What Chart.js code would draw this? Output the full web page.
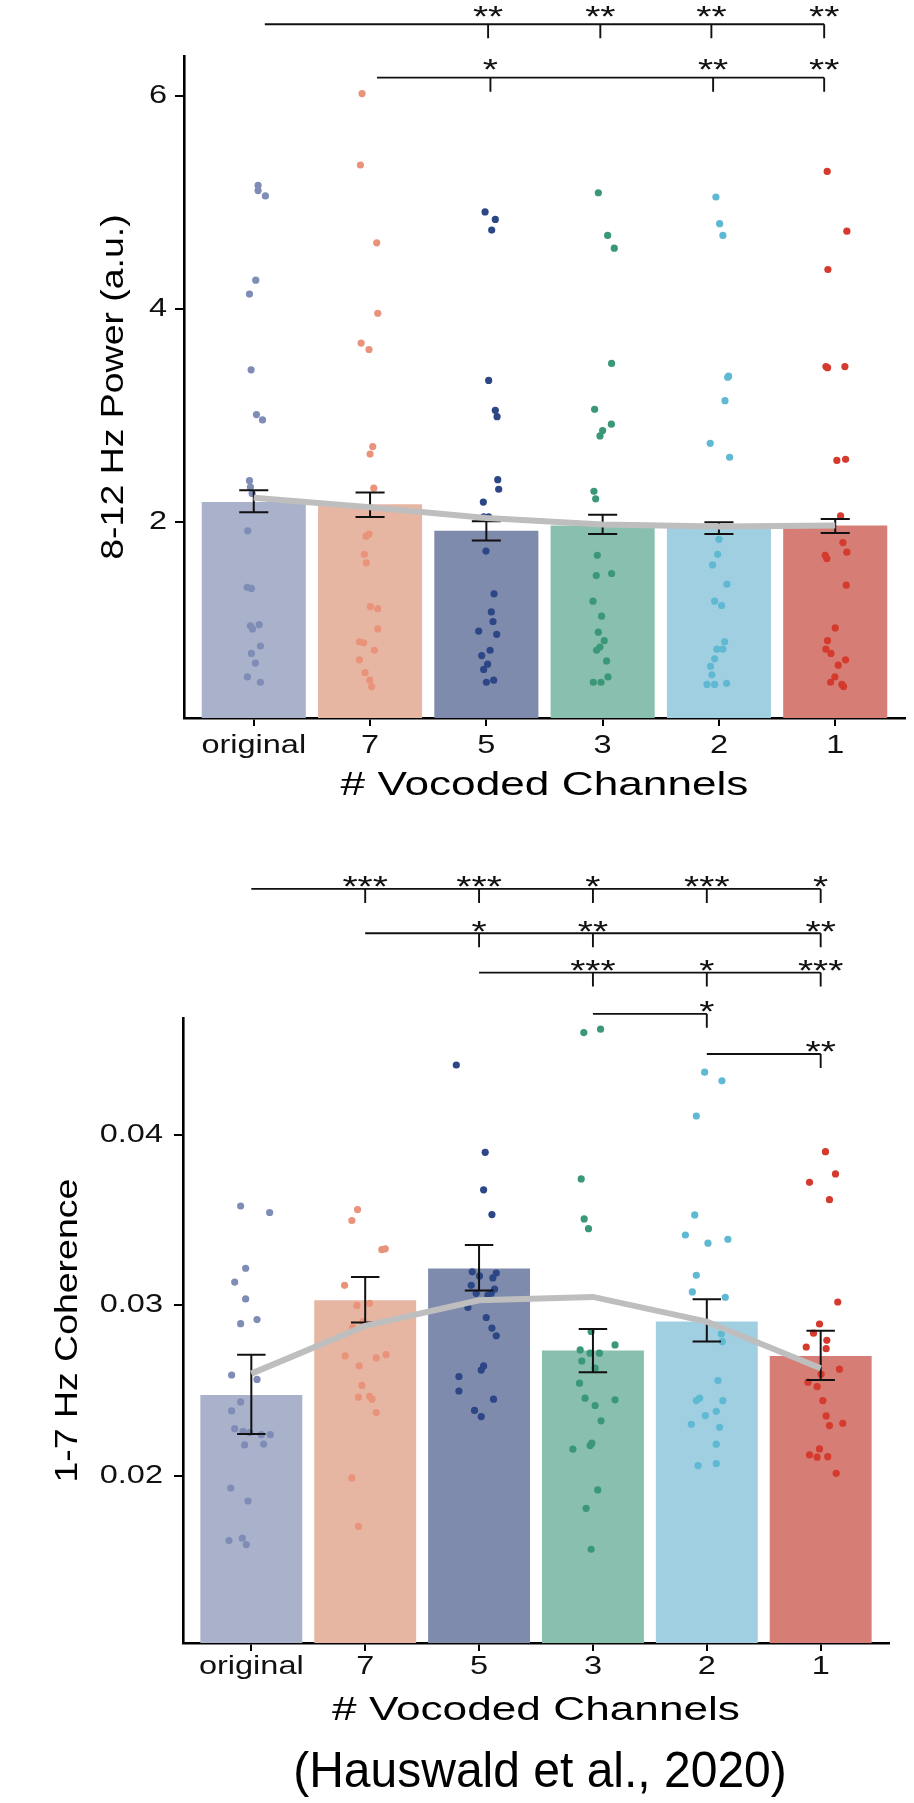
<!DOCTYPE html>
<html><head><meta charset="utf-8">
<script src="https://cdn.jsdelivr.net/npm/chart.js@4.4.1/dist/chart.umd.min.js"></script>
<style>
html,body{margin:0;padding:0;background:#fff;}
body{width:914px;height:1803px;position:relative;overflow:hidden;font-family:"Liberation Sans",Arial,sans-serif;}
#c1{position:absolute;left:0;top:0;}
#c2{position:absolute;left:0;top:845px;}
#cite{position:absolute;left:540px;top:1745px;transform:translateX(-50%) scaleX(0.96);font-size:50px;line-height:50px;white-space:nowrap;color:#000;}
</style></head>
<body>
<canvas id="c1" width="914" height="830"></canvas>
<canvas id="c2" width="914" height="895"></canvas>
<div id="cite">(Hauswald et al., 2020)</div>
<script>
// ---------- shared categories / ticks ----------
const categories = ['original', '7', '5', '3', '2', '1'];
const xTitle = '# Vocoded Channels';

// ---------- panel A: 8-12 Hz power ----------
const alphaTitle = '8-12 Hz Power (a.u.)';
const alphaTickValues = [2, 4, 6];
const alphaTickLabels = ['2', '4', '6'];
const alphaMean = [2.19, 2.17, 1.92, 1.97, 1.95, 1.97];
const alphaSeLow = [2.095, 2.05, 1.83, 1.89, 1.89, 1.90];
const alphaSeHigh = [2.30, 2.28, 2.01, 2.07, 2.00, 2.03];
const alphaTrend = [2.23, 2.14, 2.04, 1.98, 1.96, 1.97];
const alphaOriginal = [5.16,5.11,5.06,4.27,4.14,3.43,3.01,2.96,2.39,2.33,2.27,1.92,1.39,1.38,1.03,1.04,1.00,0.84,0.77,0.68,0.55,0.50];
const alpha7 = [6.02,5.35,4.62,3.96,3.68,3.62,2.71,2.64,2.32,1.89,1.87,1.70,1.62,1.21,1.19,1.00,0.88,0.87,0.80,0.71,0.59,0.52,0.46];
const alpha5 = [4.91,4.84,4.74,3.33,3.05,2.99,2.40,2.31,2.19,2.05,2.05,1.73,1.33,1.16,1.07,0.98,0.95,0.80,0.75,0.67,0.62,0.52,0.50];
const alpha3 = [5.09,4.69,4.57,3.49,3.06,2.92,2.86,2.81,2.29,2.22,1.69,1.50,1.52,1.26,1.12,0.97,0.89,0.83,0.80,0.70,0.55,0.50,0.50];
const alpha2 = [5.05,4.80,4.69,3.37,3.36,3.14,2.74,2.61,1.84,1.70,1.60,1.42,1.26,1.22,0.88,0.81,0.81,0.72,0.65,0.57,0.48,0.48,0.49];
const alpha1 = [5.29,4.73,4.37,3.46,3.45,3.46,2.58,2.59,2.06,1.81,1.69,1.66,1.72,1.41,1.01,0.89,0.81,0.77,0.66,0.71,0.55,0.50,0.48,0.46];
// horizontal jitter (category units)
const alphaJitOriginal = [0.037,0.037,0.10,0.017,-0.037,-0.023,0.023,0.075,-0.037,-0.029,-0.014,-0.052,-0.057,-0.02,-0.029,0.046,-0.011,0.057,-0.02,0.014,-0.055,0.057];
const alphaJit7 = [-0.069,-0.083,0.057,0.066,-0.077,-0.009,0.023,0,0.032,-0.009,-0.034,-0.049,-0.032,0.003,0.066,0.066,-0.092,-0.055,0.037,-0.092,-0.043,-0.003,0.014];
const alphaJit5 = [-0.011,0.077,0.046,0.02,0.077,0.092,0.098,0.106,-0.026,-0.023,0.02,-0.003,0.066,0.043,0.057,-0.066,0.089,0.032,-0.04,0.011,-0.023,0.063,0];
const alphaJit3 = [-0.037,0.043,0.1,0.077,-0.069,0.075,0,-0.023,-0.075,-0.06,-0.046,-0.055,0.077,-0.083,-0.009,-0.037,0.014,-0.023,-0.052,0.034,0.046,-0.08,-0.014];
const alphaJit2 = [-0.026,0.006,0.034,0.083,0.075,0.052,-0.075,0.092,0,-0.011,-0.055,0.069,-0.037,0.023,0.049,0.034,-0.017,-0.037,-0.072,-0.06,-0.103,-0.037,0.066];
const alphaJit1 = [-0.069,0.1,-0.063,-0.08,-0.066,0.083,0.014,0.089,0.046,0.066,-0.086,-0.072,0.1,0.095,0,-0.066,-0.08,-0.037,0.026,0.089,-0.003,-0.04,0.057,0.072];
// significance brackets
const alphaBracketLevel = [6.669, 6.169];
const alphaBracketFrom = [0.095, 1.06];
const alphaBracketTicks = [[2.015, 2.98, 3.935, 4.905], [2.035, 3.95, 4.905]];
const alphaBracketStars = [['**', '**', '**', '**'], ['*', '**', '**']];

// ---------- panel B: 1-7 Hz coherence ----------
const cohTitle = '1-7 Hz Coherence';
const cohTickValues = [0.02, 0.03, 0.04];
const cohTickLabels = ['0.02', '0.03', '0.04'];
const cohMean = [0.02474, 0.03031, 0.03216, 0.02735, 0.02905, 0.02704];
const cohSeLow = [0.02246, 0.02900, 0.03088, 0.02608, 0.02788, 0.02563];
const cohSeHigh = [0.02711, 0.03166, 0.03355, 0.02862, 0.03036, 0.02852];
const cohTrend = [0.0260, 0.0288, 0.0303, 0.0305, 0.02905, 0.02632];
const cohOriginal = [0.03583,0.03545,0.03218,0.03137,0.03038,0.02893,0.02917,0.02592,0.02566,0.02434,0.02381,0.02277,0.02261,0.02254,0.02242,0.02242,0.02182,0.02187,0.01929,0.01853,0.01621,0.01635,0.01597];
const coh7 = [0.03562,0.03498,0.03327,0.03332,0.03118,0.0300,0.03012,0.0287,0.02905,0.02704,0.02645,0.02692,0.02711,0.02531,0.02462,0.02467,0.0245,0.02372,0.01988,0.01704];
const coh5 = [0.0441,0.03898,0.03678,0.03533,0.03197,0.03173,0.0319,0.03161,0.03118,0.03095,0.03071,0.03071,0.0306,0.02988,0.02929,0.02867,0.02822,0.02645,0.02621,0.02583,0.02498,0.0245,0.02384,0.02348];
const coh3 = [0.0460,0.0462,0.03742,0.03507,0.0345,0.02847,0.02739,0.0272,0.0272,0.02768,0.02674,0.02632,0.02544,0.02456,0.02446,0.02413,0.02323,0.02192,0.02178,0.02157,0.01918,0.0181,0.0157];
const coh2 = [0.04368,0.04317,0.04111,0.03531,0.03413,0.03365,0.03388,0.03177,0.03079,0.03048,0.02833,0.02788,0.02559,0.02442,0.02456,0.02442,0.02379,0.02354,0.02303,0.02285,0.02186,0.0206,0.02072];
const coh1 = [0.03902,0.03771,0.03722,0.0362,0.0302,0.02891,0.02837,0.02795,0.02756,0.02746,0.02626,0.02596,0.0255,0.02524,0.02442,0.02352,0.02309,0.02295,0.02158,0.02123,0.0211,0.02113,0.02015];
const cohJitOriginal = [-0.094,0.161,-0.05,-0.146,-0.05,-0.094,0.05,-0.173,0.05,-0.094,-0.173,-0.146,-0.073,-0.015,0.088,0.167,-0.059,0.108,-0.181,-0.029,-0.196,-0.079,-0.044];
const cohJit7 = [-0.067,-0.117,0.146,0.176,-0.181,-0.073,0.038,-0.111,-0.02,-0.176,-0.053,0.097,0.184,-0.029,-0.059,0.038,0.059,0.097,-0.117,-0.059];
const cohJit5 = [-0.2,0.054,0.04,0.113,-0.06,0.004,0.151,0.121,-0.069,0.136,-0.025,0.107,0.078,-0.098,0.063,0.113,0.151,0.04,0.019,-0.177,-0.177,0.127,-0.04,0.019];
const cohJit3 = [-0.08,0.067,-0.103,-0.077,-0.039,-0.016,-0.112,-0.025,0.057,0.194,-0.098,0.019,-0.118,-0.069,0.194,0.019,0.071,-0.01,-0.025,-0.176,0.042,-0.06,-0.016];
const cohJit2 = [-0.019,0.133,-0.092,-0.106,-0.188,0.01,0.185,-0.092,-0.127,0.162,0.127,0.136,0.098,-0.092,-0.063,0.141,0.083,-0.013,-0.136,0.112,0.083,-0.077,0.083];
const cohJit1 = [0.042,0.13,-0.098,0.077,0.15,-0.01,-0.063,0.054,-0.127,0.048,0.165,0.004,-0.112,-0.031,0.019,0.048,0.194,0.077,-0.01,-0.098,-0.031,0.062,0.136];
const cohBracketLevel = [0.05443, 0.05183, 0.04952, 0.04710, 0.04475];
const cohBracketFrom = [0, 1, 2, 3, 4];
const cohBracketTicks = [[1, 2, 3, 4, 5], [2, 3, 5], [3, 4, 5], [4], [5]];
const cohBracketStars = [['***', '***', '*', '***', '*'], ['*', '**', '**'], ['***', '*', '***'], ['*'], ['**']];

// ---------- styling ----------
const barColors = ['#A9B1CB', '#E7B6A3', '#7F8BAC', '#89BFAE', '#A1CFE2', '#D67E75'];
const pointColors = ['#7F8DB6', '#E9937B', '#2C4686', '#3A9879', '#5FB9D3', '#D43A2D'];
const FONT = '"Liberation Sans", Arial, Helvetica, sans-serif';
const INK = '#111';
const SX_H = 1.3, SX_V = 1.17;

Chart.defaults.font.family = FONT;

function stretchText(ctx) {
  const base = CanvasRenderingContext2D.prototype.fillText;
  ctx.fillText = function (t, x, y) {
    const m = this.getTransform();
    const s = Math.abs(m.b) > 1e-6 ? SX_V : SX_H;
    this.save();
    this.translate(x, y);
    this.scale(s, 1);
    base.call(this, t, 0, 0);
    this.restore();
  };
}

function drawErrorBars(chart, low, high) {
  const { ctx, scales: { x, y } } = chart;
  ctx.save();
  ctx.strokeStyle = INK; ctx.lineWidth = 2; ctx.lineCap = 'butt';
  low.forEach((lo, i) => {
    const cx = x.getPixelForValue(i), xl = x.getPixelForValue(i - 0.125), xr = x.getPixelForValue(i + 0.125);
    const yl = y.getPixelForValue(lo), yh = y.getPixelForValue(high[i]);
    ctx.beginPath();
    ctx.moveTo(cx, yl); ctx.lineTo(cx, yh);
    ctx.moveTo(xl, yl); ctx.lineTo(xr, yl);
    ctx.moveTo(xl, yh); ctx.lineTo(xr, yh);
    ctx.stroke();
  });
  ctx.restore();
}

function drawBrackets(chart, br) {
  const { ctx, scales: { x, y } } = chart;
  ctx.save();
  ctx.strokeStyle = INK; ctx.fillStyle = INK; ctx.lineWidth = 1.9;
  ctx.font = '30px ' + FONT; ctx.textAlign = 'center'; ctx.textBaseline = 'alphabetic';
  br.level.forEach((lv, r) => {
    const py = y.getPixelForValue(lv);
    const ticks = br.ticks[r];
    ctx.beginPath();
    ctx.moveTo(x.getPixelForValue(br.from[r]), py);
    ctx.lineTo(x.getPixelForValue(ticks[ticks.length - 1]), py);
    ticks.forEach(t => { const px = x.getPixelForValue(t); ctx.moveTo(px, py); ctx.lineTo(px, py + 14); });
    ctx.stroke();
    ticks.forEach((t, k) => ctx.fillText(br.stars[r][k], x.getPixelForValue(t), py + br.labelOffset));
  });
  ctx.restore();
}

function buildChart(id, p) {
  const el = document.getElementById(id);
  const ctx = el.getContext('2d');
  stretchText(ctx);
  const datasets = [];
  datasets.push({
    type: 'line', data: p.trend.map((v, i) => ({ x: i, y: v })),
    borderColor: '#BEBEBE', borderWidth: 6, pointRadius: 0, tension: 0, order: 1, isTrend: true
  });
  p.points.forEach((vals, i) => {
    datasets.push({
      type: 'scatter', data: vals.map((v, k) => ({ x: i + p.jitter[i][k], y: v })),
      backgroundColor: pointColors[i], borderWidth: 0, pointRadius: 3.6, order: 2
    });
  });
  datasets.push({
    type: 'bar', data: p.mean.map((v, i) => ({ x: i, y: v })),
    backgroundColor: barColors, borderWidth: 0, categoryPercentage: 1, barPercentage: 0.895, order: 3
  });
  const plugin = {
    id: 'extras' + id,
    beforeDatasetDraw(chart, args) {
      if (chart.data.datasets[args.index].isTrend) drawErrorBars(chart, p.low, p.high);
    },
    afterDraw(chart) { drawBrackets(chart, p.brackets); }
  };
  return new Chart(ctx, {
    type: 'bar',
    data: { datasets },
    plugins: [plugin],
    options: {
      responsive: false, animation: false, devicePixelRatio: 1,
      layout: { padding: { left: 0, right: p.padRight, top: p.padTop, bottom: 0 } },
      plugins: { legend: { display: false }, tooltip: { enabled: false } },
      scales: {
        x: {
          type: 'linear', min: -0.6, max: 5.6, offset: false,
          afterBuildTicks: s => { s.ticks = categories.map((c, i) => ({ value: i })); },
          afterFit: s => { s.height = p.xHeight; },
          ticks: { callback: v => categories[Math.round(v)], font: { size: 25 }, color: INK, padding: p.xTickPad, maxRotation: 0, minRotation: 0, autoSkip: false },
          grid: { offset: false, drawOnChartArea: false, drawTicks: true, tickLength: 8, color: '#000', lineWidth: 2 },
          border: { display: true, color: '#000', width: 2.6 },
          title: { display: true, text: xTitle, color: '#000', font: { size: 34, lineHeight: 1.2 }, padding: { top: 0, bottom: p.xTitlePad } }
        },
        y: {
          type: 'linear', min: p.yMin, max: p.yMax,
          afterBuildTicks: s => { s.ticks = p.tickValues.map(v => ({ value: v })); },
          afterFit: s => { s.width = p.yWidth; },
          ticks: { callback: v => p.tickLabels[p.tickValues.findIndex(t => Math.abs(t - v) < 1e-9)], font: { size: 25 }, color: INK, padding: p.yTickPad, autoSkip: false },
          grid: { drawOnChartArea: false, drawTicks: true, tickLength: 9, color: '#000', lineWidth: 2 },
          border: { display: true, color: '#000', width: 2.6 },
          title: { display: true, text: p.title, color: '#000', font: { size: 32, lineHeight: 1.2 }, padding: { top: p.yTitlePad, bottom: 0 } }
        }
      }
    }
  });
}

buildChart('c1', {
  title: alphaTitle, tickValues: alphaTickValues, tickLabels: alphaTickLabels,
  mean: alphaMean, low: alphaSeLow, high: alphaSeHigh, trend: alphaTrend,
  points: [alphaOriginal, alpha7, alpha5, alpha3, alpha2, alpha1],
  jitter: [alphaJitOriginal, alphaJit7, alphaJit5, alphaJit3, alphaJit2, alphaJit1],
  brackets: { level: alphaBracketLevel, from: alphaBracketFrom, ticks: alphaBracketTicks, stars: alphaBracketStars, labelOffset: 1.5 },
  yMin: 0.165, yMax: 6.372,
  padTop: 56, padRight: 9, xHeight: 112, yWidth: 184,
  xTickPad: 5.2, xTitlePad: 23.6, yTickPad: 8, yTitlePad: 94.8
});

buildChart('c2', {
  title: cohTitle, tickValues: cohTickValues, tickLabels: cohTickLabels,
  mean: cohMean, low: cohSeLow, high: cohSeHigh, trend: cohTrend,
  points: [cohOriginal, coh7, coh5, coh3, coh2, coh1],
  jitter: [cohJitOriginal, cohJit7, cohJit5, cohJit3, cohJit2, cohJit1],
  brackets: { level: cohBracketLevel, from: cohBracketFrom, ticks: cohBracketTicks, stars: cohBracketStars, labelOffset: 7.5 },
  yMin: 0.0102, yMax: 0.04684,
  padTop: 173.3, padRight: 25, xHeight: 97, yWidth: 183,
  xTickPad: 1.6, xTitlePad: 9.1, yTickPad: 11, yTitlePad: 48.8
});
</script>
</body></html>
